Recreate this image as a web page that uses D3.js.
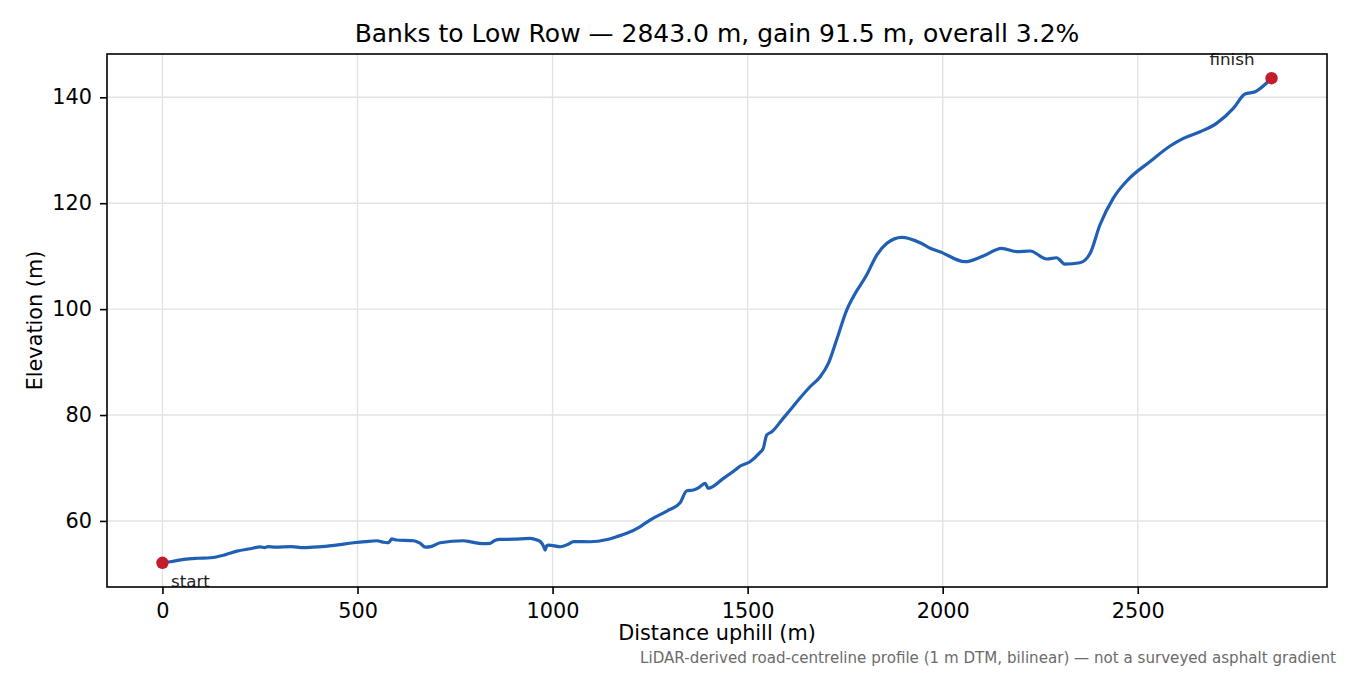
<!DOCTYPE html>
<html>
<head>
<meta charset="utf-8">
<script src="https://cdn.jsdelivr.net/npm/d3@7"></script>
<style>
  body { margin: 0; background: #fff; }
  text { font-family: "DejaVu Sans", sans-serif; }
</style>
</head>
<body>
<div id="profileChart"></div>
<script>
// distance along the road (m) and elevation (m)
const distance = [
  0, 20, 55, 90, 123, 160, 191, 225, 251, 262, 270, 290, 330, 362, 400, 440,
  490, 520, 550, 565, 576, 581, 588, 600, 644, 660, 674, 690, 712, 772, 790,
  820, 840, 852, 866, 900, 943, 960, 969, 977, 981, 985, 990, 1020, 1040,
  1054, 1096, 1140, 1164, 1190, 1224, 1250, 1293, 1327, 1344, 1361, 1375,
  1391, 1399, 1438, 1468, 1481, 1506, 1530, 1540, 1549, 1562, 1591, 1609,
  1630, 1660, 1686, 1707, 1728, 1754, 1771, 1805, 1831, 1857, 1895, 1942,
  1968, 1993, 2057, 2104, 2151, 2190, 2224, 2267, 2292, 2313, 2352, 2378,
  2403, 2437, 2476, 2531, 2583, 2617, 2660, 2702, 2745, 2775, 2801, 2831, 2843
];
const elevation = [
  52.1, 52.3, 52.75, 52.95, 53.05, 53.6, 54.3, 54.75, 55.1, 54.95, 55.15,
  55.05, 55.15, 54.95, 55.1, 55.4, 55.88, 56.1, 56.26, 56.0, 55.88, 56.0,
  56.6, 56.4, 56.26, 55.8, 55.05, 55.2, 55.88, 56.26, 56.05, 55.7, 55.77,
  56.3, 56.5, 56.55, 56.71, 56.4, 56.07, 55.2, 54.5, 55.3, 55.45, 55.13,
  55.6, 56.1, 56.07, 56.5, 57.02, 57.66, 58.9, 60.17, 61.87, 63.44, 65.7,
  65.84, 66.3, 67.1, 66.16, 68.04, 69.61, 70.37, 71.18, 72.8, 73.71, 76.22,
  76.84, 79.37, 80.94, 82.83, 85.34, 87.23, 89.76, 94.16, 99.83, 102.34,
  106.43, 110.21, 112.42, 113.55, 112.53, 111.48, 110.84, 108.95, 110.02,
  111.48, 110.84, 110.97, 109.46, 109.7, 108.51, 108.76, 110.53, 115.88,
  120.92, 124.51, 127.83, 130.8, 132.25, 133.5, 135.08, 137.91, 140.61,
  141.05, 142.75, 143.6
];
const xTicks = [0, 500, 1000, 1500, 2000, 2500];
const yTicks = [60, 80, 100, 120, 140];
const endLabels = ["start", "finish"];

const chartTitle = "Banks to Low Row \u2014 2843.0 m, gain 91.5 m, overall 3.2%";
const footNote = "LiDAR-derived road-centreline profile (1 m DTM, bilinear) \u2014 not a surveyed asphalt gradient";

const width = 1350,
  height = 675,
  margin = { top: 54, right: 23, bottom: 88, left: 107 };

const data = distance.map((d, i) => ({ d: d, e: elevation[i] }));

// matplotlib-like 5% padding on both axes
const xExt = d3.extent(distance),
  yExt = d3.extent(elevation);
const xPad = (xExt[1] - xExt[0]) * 0.05,
  yPad = (yExt[1] - yExt[0]) * 0.05;

const x = d3
  .scaleLinear()
  .domain([xExt[0] - xPad, xExt[1] + xPad])
  .range([margin.left, width - margin.right]);
const y = d3
  .scaleLinear()
  .domain([yExt[0] - yPad, yExt[1] + yPad])
  .range([height - margin.bottom, margin.top]);

const svg = d3
  .select("#profileChart")
  .append("svg")
  .attr("width", width)
  .attr("height", height);

/* GRID */
const grid = svg.append("g").attr("class", "grid");
grid
  .selectAll("line.vx")
  .data(xTicks)
  .enter()
  .append("line")
  .attr("x1", (d) => x(d))
  .attr("x2", (d) => x(d))
  .attr("y1", margin.top)
  .attr("y2", height - margin.bottom)
  .style("stroke", "#e3e3e3")
  .style("stroke-width", 1.4);
grid
  .selectAll("line.hy")
  .data(yTicks)
  .enter()
  .append("line")
  .attr("x1", margin.left)
  .attr("x2", width - margin.right)
  .attr("y1", (d) => y(d))
  .attr("y2", (d) => y(d))
  .style("stroke", "#e3e3e3")
  .style("stroke-width", 1.4);

/* AXES */
const xAxis = svg
  .append("g")
  .attr("transform", `translate(0,${height - margin.bottom})`)
  .call(
    d3.axisBottom(x).tickValues(xTicks).tickFormat(d3.format("d"))
      .tickSize(7).tickPadding(8).tickSizeOuter(0)
  );
const yAxis = svg
  .append("g")
  .attr("transform", `translate(${margin.left},0)`)
  .call(
    d3.axisLeft(y).tickValues(yTicks).tickFormat(d3.format("d"))
      .tickSize(7).tickPadding(8).tickSizeOuter(0)
  );

[xAxis, yAxis].forEach((a) => {
  a.select(".domain").remove();
  a.selectAll(".tick line").style("stroke", "#000").style("stroke-width", 1.6);
  a.selectAll(".tick text")
    .style("font-size", "20.8px")
    .style("fill", "#000")
    .style("font-family", "DejaVu Sans");
});
xAxis.selectAll(".tick text").attr("dy", "0.75em");

/* PROFILE LINE */
const line = d3
  .line()
  .x((p) => x(p.d))
  .y((p) => y(p.e))
  .curve(d3.curveMonotoneX);

svg
  .append("path")
  .datum(data)
  .attr("d", line)
  .style("fill", "none")
  .style("stroke", "#1f5fb4")
  .style("stroke-width", 3.2)
  .style("stroke-linejoin", "round");

/* START / FINISH */
const ends = [data[0], data[data.length - 1]];
svg
  .selectAll("circle.end")
  .data(ends)
  .enter()
  .append("circle")
  .attr("cx", (p) => x(p.d))
  .attr("cy", (p) => y(p.e))
  .attr("r", 6.2)
  .style("fill", "#c21d2b");

svg
  .selectAll("text.endlabel")
  .data(ends)
  .enter()
  .append("text")
  .attr("x", (p, i) => x(p.d) + (i === 0 ? 8.5 : -17))
  .attr("y", (p, i) => y(p.e) + (i === 0 ? 24 : -13))
  .attr("text-anchor", (p, i) => (i === 0 ? "start" : "end"))
  .style("font-size", "16.7px")
  .style("fill", "#222")
  .text((p, i) => endLabels[i]);

/* FRAME */
svg
  .append("rect")
  .attr("x", margin.left)
  .attr("y", margin.top)
  .attr("width", width - margin.left - margin.right)
  .attr("height", height - margin.top - margin.bottom)
  .style("fill", "none")
  .style("stroke", "#000")
  .style("stroke-width", 1.6);

/* TEXTS */
const midX = (margin.left + width - margin.right) / 2;
svg
  .append("text")
  .attr("x", midX)
  .attr("y", 42)
  .attr("text-anchor", "middle")
  .style("font-size", "25px")
  .style("fill", "#000")
  .text(chartTitle);

svg
  .append("text")
  .attr("x", midX)
  .attr("y", 640)
  .attr("text-anchor", "middle")
  .style("font-size", "20.8px")
  .style("fill", "#000")
  .text("Distance uphill (m)");

svg
  .append("text")
  .attr("transform", `translate(41.5,${(margin.top + height - margin.bottom) / 2}) rotate(-90)`)
  .attr("text-anchor", "middle")
  .style("font-size", "20.8px")
  .style("fill", "#000")
  .text("Elevation (m)");

svg
  .append("text")
  .attr("x", 1336)
  .attr("y", 663)
  .attr("text-anchor", "end")
  .style("font-size", "15.1px")
  .style("fill", "#6b6b6b")
  .text(footNote);
</script>
</body>
</html>
